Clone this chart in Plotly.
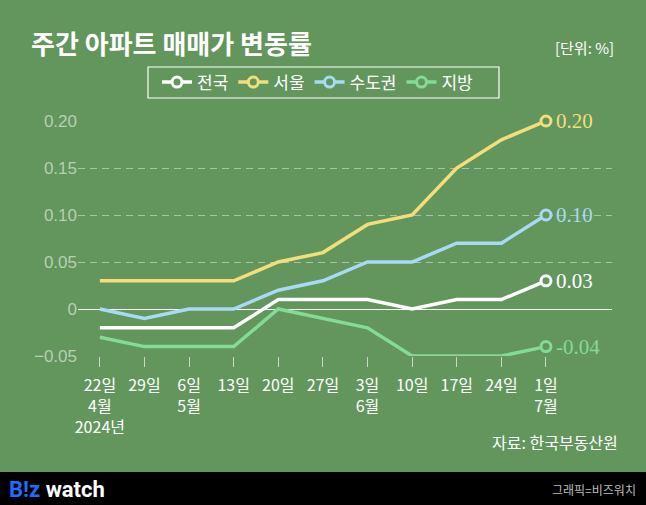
import plotly.graph_objects as go

# ---- data ----
dates = ["22일<br>4월<br>2024년", "29일", "6일<br>5월", "13일", "20일", "27일",
         "3일<br>6월", "10일", "17일", "24일", "1일<br>7월"]
nation = [-0.02, -0.02, -0.02, -0.02, 0.01, 0.01, 0.01, 0.00, 0.01, 0.01, 0.03]
seoul = [0.03, 0.03, 0.03, 0.03, 0.05, 0.06, 0.09, 0.10, 0.15, 0.18, 0.20]
capital = [0.00, -0.01, 0.00, 0.00, 0.02, 0.03, 0.05, 0.05, 0.07, 0.07, 0.10]
regional = [-0.03, -0.04, -0.04, -0.04, 0.00, -0.01, -0.02, -0.05, -0.05, -0.05, -0.04]
series_names = ["전국", "서울", "수도권", "지방"]
end_labels = ["0.03", "0.20", "0.10", "-0.04"]
y_tick_vals = [-0.05, 0, 0.05, 0.10, 0.15, 0.20]
y_tick_text = ["−0.05", "0", "0.05", "0.10", "0.15", "0.20"]

BG = "#62965d"
colors = ["#ffffff", "#f3de7b", "#a8daf3", "#84da96"]
series = [nation, seoul, capital, regional]
xs = list(range(len(dates)))

KR = "Noto Sans CJK KR"

fig = go.Figure()
for name, vals, col in zip(series_names, series, colors):
    fig.add_trace(go.Scatter(x=xs, y=vals, mode="lines", line=dict(color=col, width=3.5),
                             showlegend=False, hoverinfo="skip"))
for name, vals, col in zip(series_names, series, colors):
    fig.add_trace(go.Scatter(x=[xs[-1]], y=[vals[-1]], mode="lines+markers", name=name,
                             line=dict(color=col, width=3.5),
                             marker=dict(size=10, color=BG, line=dict(color=col, width=3)),
                             cliponaxis=False, showlegend=True))

annotations = []
for vals, col, lab in zip(series, colors, end_labels):
    annotations.append(dict(x=xs[-1], y=vals[-1], xref="x", yref="y", text=lab,
                            showarrow=False, xanchor="left", yanchor="middle", xshift=8,
                            font=dict(family="Liberation Serif", size=21, color=col)))

def px(xp):
    return (xp - 78) / 534

def py(yp):
    return (356 - yp) / 235

annotations += [
    dict(x=px(29), y=py(42), xref="paper", yref="paper", text="<b>주간 아파트 매매가 변동률</b>",
         showarrow=False, xanchor="left", yanchor="middle",
         font=dict(family=KR, size=26, color="#ffffff")),
    dict(x=px(616), y=py(47), xref="paper", yref="paper", text="[단위: %]",
         showarrow=False, xanchor="right", yanchor="middle",
         font=dict(family=KR, size=15, color="#ffffff")),
    dict(x=px(620), y=py(442), xref="paper", yref="paper", text="자료: 한국부동산원",
         showarrow=False, xanchor="right", yanchor="middle",
         font=dict(family=KR, size=16, color="#ffffff")),
    dict(x=px(7), y=py(489), xref="paper", yref="paper",
         text="<b><span style='color:#1f6cff'>B!z</span> watch</b>",
         showarrow=False, xanchor="left", yanchor="middle",
         font=dict(family="Roboto", size=22, color="#ffffff")),
    dict(x=px(638), y=py(489), xref="paper", yref="paper", text="그래픽=비즈워치",
         showarrow=False, xanchor="right", yanchor="middle",
         font=dict(family=KR, size=12, color="#bdbdbd")),
]

fig.update_layout(
    width=646, height=505,
    margin=dict(l=78, r=34, t=121, b=149),
    paper_bgcolor=BG, plot_bgcolor=BG,
    annotations=annotations,
    shapes=[
        dict(type="rect", xref="paper", yref="paper", x0=px(-5), x1=px(651),
             y0=py(472), y1=py(510), fillcolor="#000000", line=dict(width=0), layer="above"),
        dict(type="rect", xref="paper", yref="paper", x0=px(148), x1=px(499),
             y0=py(98), y1=py(67), fillcolor="rgba(0,0,0,0)",
             line=dict(color="#ffffff", width=1.2), layer="above"),
    ],
    legend=dict(orientation="h", x=px(157), y=py(82.5), xanchor="left", yanchor="middle",
                bgcolor="rgba(0,0,0,0)", borderwidth=0,
                font=dict(family=KR, size=17, color="#ffffff"), itemwidth=30),
    xaxis=dict(range=[-0.49, 11.48], tickvals=xs, ticktext=dates, showgrid=False,
               zeroline=False, showline=False, ticks="outside", ticklen=10, tickwidth=1,
               tickcolor="#c9d8c5", tickfont=dict(family=KR, size=16, color="#ffffff"),
               ticklabelstandoff=5, fixedrange=True),
    yaxis=dict(range=[-0.05, 0.20], tickvals=y_tick_vals, ticktext=y_tick_text,
               showgrid=True, gridcolor="#a9c3a5", griddash="7px,5px", gridwidth=1,
               zeroline=True, zerolinecolor="#ffffff", zerolinewidth=1,
               showline=False, ticks="", ticklabelstandoff=0,
               tickfont=dict(family="Liberation Sans", size=17, color="#b8cfb4"),
               fixedrange=True),
    showlegend=True,
)

fig.write_html("out.html", config={"displayModeBar": False},
               post_script="document.body.style.margin='0';")
